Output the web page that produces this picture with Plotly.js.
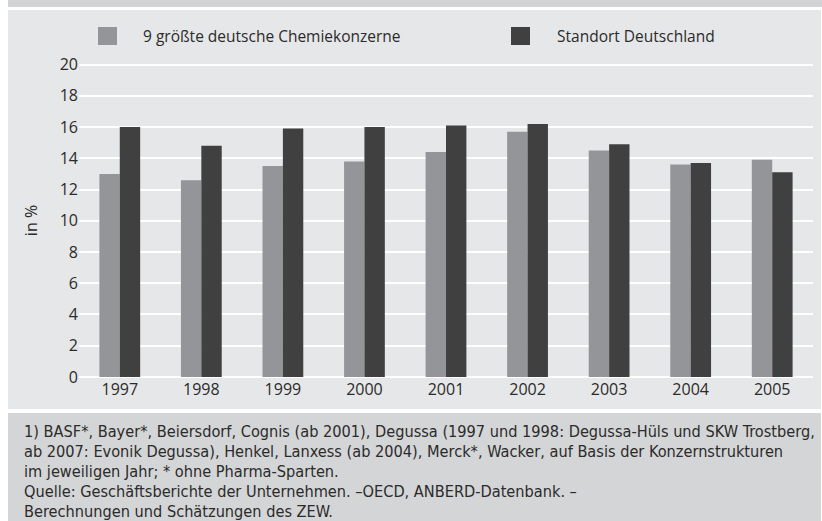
<!DOCTYPE html>
<html>
<head>
<meta charset="utf-8">
<script src="https://cdn.plot.ly/plotly-3.0.1.min.js"></script>
<style>
html,body{margin:0;padding:0;background:#fff;}
#wrap{position:relative;width:822px;height:521px;overflow:hidden;}
#chart{position:absolute;left:0;top:0;width:822px;height:521px;z-index:1;}
.ov{position:absolute;z-index:2;}
#wl{left:0;top:0;width:8px;height:521px;background:#fff;}
#wr{left:821px;top:0;width:1px;height:521px;background:#fff;}
#band{left:8px;top:0;width:814px;height:7px;background:#d2d3d5;}
#wt{left:8px;top:7px;width:814px;height:3px;background:#fff;}
#wb{left:8px;top:409px;width:814px;height:4px;background:#fff;}
#foot{left:8px;top:413px;width:813px;height:108px;background:#d4d5d6;}
.sw{position:absolute;z-index:3;width:19px;height:18px;top:27px;}
.leg{position:absolute;z-index:3;top:26px;line-height:20px;font-family:"Open Sans",sans-serif;font-size:15.5px;color:#2b2b2b;white-space:nowrap;}
#foottext{position:absolute;z-index:3;left:24px;top:421.5px;font-family:"DejaVu Sans Condensed","DejaVu Sans",sans-serif;font-size:16.2px;line-height:20px;color:#2b2b2b;white-space:nowrap;}
</style>
</head>
<body>
<div id="wrap">
  <div id="chart"></div>
  <div class="ov" id="wl"></div>
  <div class="ov" id="wr"></div>
  <div class="ov" id="band"></div>
  <div class="ov" id="wt"></div>
  <div class="ov" id="wb"></div>
  <div class="ov" id="foot"></div>
  <div class="sw" id="sw1" style="left:98px"></div>
  <div class="sw" id="sw2" style="left:511px"></div>
  <div class="leg" id="leg1" style="left:143px"></div>
  <div class="leg" id="leg2" style="left:557px"></div>
  <div id="foottext"></div>
</div>
<script>
// ---- data ----
const years = ["1997","1998","1999","2000","2001","2002","2003","2004","2005"];
const konzerne = [13.0, 12.6, 13.5, 13.8, 14.4, 15.7, 14.5, 13.6, 13.9];
const standort = [16.0, 14.8, 15.9, 16.0, 16.1, 16.2, 14.9, 13.7, 13.1];
const seriesNames = ["9 größte deutsche Chemiekonzerne", "Standort Deutschland"];
const yTicks = [0, 2, 4, 6, 8, 10, 12, 14, 16, 18, 20];
const yTitle = "in %";
const footerLines = [
  "1) BASF*, Bayer*, Beiersdorf, Cognis (ab 2001), Degussa (1997 und 1998: Degussa-Hüls und SKW Trostberg,",
  "ab 2007: Evonik Degussa), Henkel, Lanxess (ab 2004), Merck*, Wacker, auf Basis der Konzernstrukturen",
  "im jeweiligen Jahr; * ohne Pharma-Sparten.",
  "Quelle: Geschäftsberichte der Unternehmen. –OECD, ANBERD-Datenbank. –",
  "Berechnungen und Schätzungen des ZEW."
];

const colGrey = "#949598", colDark = "#404040";
const panel = "#e6e7e8";
const textCol = "#2b2b2b";
const tickFont = {family: "Open Sans, sans-serif", size: 16, color: textCol};

// legend + footer (real text)
document.getElementById("sw1").style.background = colGrey;
document.getElementById("sw2").style.background = colDark;
document.getElementById("leg1").textContent = seriesNames[0];
document.getElementById("leg2").textContent = seriesNames[1];
const ft = document.getElementById("foottext");
footerLines.forEach(t => { const d = document.createElement("div"); d.textContent = t; ft.appendChild(d); });

const traces = [
  {type: "bar", x: years, y: konzerne, name: seriesNames[0], marker: {color: colGrey}},
  {type: "bar", x: years, y: standort, name: seriesNames[1], marker: {color: colDark}}
];

const layout = {
  width: 822, height: 521, margin: {l: 79, r: 9, t: 63, b: 143},
  paper_bgcolor: panel, plot_bgcolor: panel,
  barmode: "group", bargap: 0.5, showlegend: false,
  xaxis: {type: "category", showgrid: false, zeroline: false, ticks: "", tickfont: tickFont},
  yaxis: {range: [-0.07, 20.1], tickvals: yTicks, showgrid: true, gridcolor: "#ffffff", gridwidth: 2,
          zeroline: false, ticks: "", tickfont: tickFont, title: {text: yTitle, font: tickFont}}
};

Plotly.newPlot("chart", traces, layout, {displayModeBar: false, staticPlot: true});
</script>
</body>
</html>
